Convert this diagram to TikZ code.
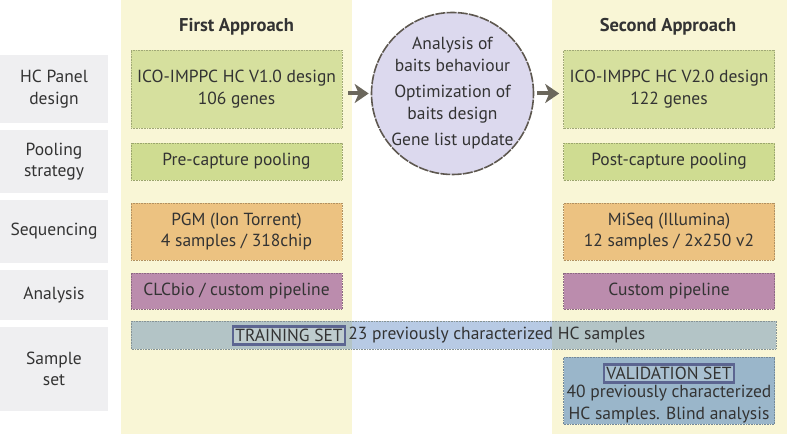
\documentclass[tikz,border=0pt]{standalone}
\usepackage{fontspec}
\setmainfont{PT Sans}
\usetikzlibrary{arrows.meta}
\definecolor{txt}{HTML}{333333}
\definecolor{lblbg}{HTML}{EFEFF1}
\definecolor{colbg}{HTML}{F9F6D6}
\definecolor{greenA}{HTML}{D6E09E}
\definecolor{greenB}{HTML}{CFDC91}
\definecolor{orangeA}{HTML}{ECC281}
\definecolor{purpleA}{HTML}{BB8CAD}
\definecolor{trainY}{HTML}{B3C4C6}
\definecolor{trainW}{HTML}{B7CAE4}
\definecolor{valbg}{HTML}{9AB6CA}
\definecolor{tagbd}{HTML}{5C6591}
\definecolor{circbg}{HTML}{DCD9EE}
\definecolor{circbd}{HTML}{5E5850}
\definecolor{arrc}{HTML}{6B675C}
\tikzset{
  every node/.style={text=txt, font=\fontsize{17.5}{21.5}\selectfont},
  lbl/.style={fill=lblbg, draw=none, minimum width=108, inner sep=0, align=center},
  colfill/.style={fill=colbg, draw=none},
  stagebox/.style={draw=#1!75!black, fill=#1, densely dotted, line width=0.6pt, minimum width=211, inner sep=0, align=center},
  tagbox/.style={draw=tagbd, line width=2.4pt, inner sep=2.5pt, outer sep=0, fill=white, fill opacity=0.15, text opacity=1},
  arr/.style={draw=arrc, line width=4pt, -{Triangle[length=14pt,width=19pt,inset=4pt]}},
  ttl/.style={font=\fontsize{18.5}{22}\selectfont\bfseries}
}
\begin{document}
\begin{tikzpicture}[x=1pt,y=-1pt]
\useasboundingbox (0,0) rectangle (787,446);
% columns
\fill[colfill] (121,0) rectangle (352,434);
\fill[colfill] (552,0) rectangle (787,434);
% left labels
\node[lbl, minimum height=68] (l1) at (54,89) {HC Panel\\design};
\node[lbl, minimum height=63] (l2) at (54,161.5) {Pooling\\strategy};
\node[lbl, minimum height=63] (l3) at (54,231.5) {Sequencing};
\node[lbl, minimum height=50] (l4) at (54,295) {Analysis};
\node[lbl, minimum height=84] (l5) at (54,369) {Sample\\set};
% titles
\node[ttl] (t1) at (236.5,27) {First Approach};
\node[ttl] (t2) at (668,27) {Second Approach};
% first approach
\node[stagebox=greenA, minimum height=78] (hc1) at (236.5,89) {ICO-IMPPC HC V1.0 design\\106 genes};
\node[stagebox=greenB, minimum height=37] (pool1) at (236.5,161.5) {Pre-capture pooling};
\node[stagebox=orangeA, minimum height=57] (seq1) at (236.5,231.5) {PGM (Ion Torrent)\\4 samples / 318chip};
\node[stagebox=purpleA, minimum height=36] (an1) at (236.5,291) {CLCbio / custom pipeline};
% second approach
\node[stagebox=greenA, minimum height=78] (hc2) at (669,89) {ICO-IMPPC HC V2.0 design\\122 genes};
\node[stagebox=greenB, minimum height=37] (pool2) at (669,161.5) {Post-capture pooling};
\node[stagebox=orangeA, minimum height=57] (seq2) at (669,231.5) {MiSeq (Illumina)\\12 samples / 2x250 v2};
\node[stagebox=purpleA, minimum height=36] (an2) at (669,291) {Custom pipeline};
% training bar
\fill[trainY] (131,321) rectangle (352,349);
\fill[trainW] (352,321) rectangle (552,349);
\fill[trainY] (552,321) rectangle (776,349);
\draw[trainY!75!black, densely dotted, line width=0.6pt] (131,321) rectangle (776,349);
\node[tagbox] (train) at (289,335.5) {TRAINING SET};
\node[anchor=west, inner sep=3pt] (traintxt) at (train.east) {23 previously characterized HC samples};
% validation
\node[stagebox=valbg, minimum height=67] (val) at (669,390.5) {};
\node[tagbox] (valtag) at (669,373.5) {VALIDATION SET};
\node[align=center, inner sep=0] (valtxt) at (669,404) {40 previously characterized\\HC samples. Blind analysis};
% circle
\node[circle, fill=circbg, draw=circbd, line width=1.6pt, dash pattern=on 10pt off 1.2pt, minimum size=162, inner sep=0] (circ) at (452.5,93.5) {};
\node[align=center, inner sep=0] (ctxt) at (circ) {Analysis of\\baits behaviour\\[5pt]Optimization of\\baits design\\[5pt]Gene list update};
% arrows
\draw[arr] ([xshift=6pt]hc1.east |- circ.west) -- ([xshift=-2pt]circ.west);
\draw[arr] ([xshift=3pt]circ.east) -- ([xshift=-4pt]hc2.west |- circ.east);
\end{tikzpicture}
\end{document}
